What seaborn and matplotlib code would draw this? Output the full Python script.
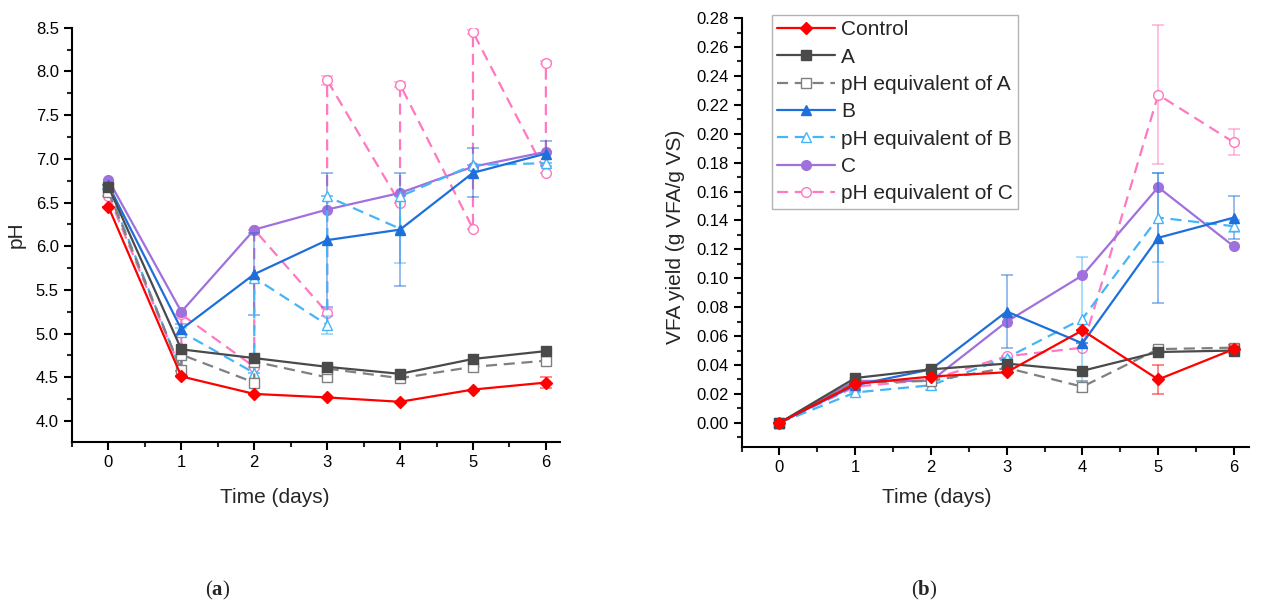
import numpy as np
import pandas as pd
import matplotlib
matplotlib.use("Agg")
import matplotlib.pyplot as plt
from matplotlib.ticker import MultipleLocator
import seaborn as sns

# ---- data ----
days = [0, 1, 2, 3, 4, 5, 6]

# (a) pH
ph_control = [6.45, 4.51, 4.31, 4.27, 4.22, 4.36, 4.44]
ph_control_err = [0, 0, 0, 0, 0, 0, 0.06]
ph_A = [6.68, 4.82, 4.72, 4.62, 4.54, 4.71, 4.80]
ph_B = [6.70, 5.05, 5.68, 6.07, 6.19, 6.84, 7.06]
ph_B_err = [0, 0.06, 0.47, 0.77, 0.65, 0.28, 0.14]
ph_C = [6.76, 5.25, 6.19, 6.42, 6.61, 6.91, 7.08]

# pH equivalents: measured before and after adjustment, so two points on some days
ph_eqA_days = [0, 1, 1, 2, 2, 3, 3, 4, 5, 6]
ph_eqA = [6.62, 4.58, 4.76, 4.44, 4.68, 4.50, 4.60, 4.49, 4.62, 4.69]
ph_eqB_days = [0, 1, 1, 2, 2, 3, 3, 4, 4, 5, 6]
ph_eqB = [6.65, 4.57, 5.02, 4.55, 5.64, 5.10, 6.57, 6.20, 6.57, 6.93, 6.95]
ph_eqB_err = [0, 0, 0.05, 0, 0, 0.10, 0, 0.39, 0, 0, 0]
ph_eqC_days = [0, 1, 1, 2, 2, 3, 3, 4, 4, 5, 5, 6, 6]
ph_eqC = [6.58, 4.57, 5.22, 4.62, 6.19, 5.24, 7.90, 6.49, 7.85, 6.20, 8.45, 6.84, 8.10]
ph_eqC_err = [0, 0, 0, 0, 0, 0.04, 0.05, 0, 0.03, 0, 0.02, 0, 0.02]

# (b) VFA yield
vfa_control = [0.000, 0.027, 0.032, 0.035, 0.064, 0.030, 0.051]
vfa_control_err = [0, 0, 0, 0, 0, 0.010, 0.003]
vfa_A = [0.000, 0.031, 0.037, 0.041, 0.036, 0.049, 0.050]
vfa_eqA = [0.000, 0.028, 0.029, 0.038, 0.025, 0.051, 0.052]
vfa_eqA_err = [0, 0, 0, 0, 0.004, 0, 0]
vfa_B = [0.000, 0.026, 0.037, 0.077, 0.055, 0.128, 0.142]
vfa_B_err = [0, 0, 0, 0.025, 0, 0.045, 0.015]
vfa_eqB = [0.000, 0.021, 0.026, 0.045, 0.072, 0.142, 0.136]
vfa_eqB_err = [0, 0, 0.003, 0, 0.043, 0.031, 0.004]
vfa_C = [0.000, 0.029, 0.029, 0.070, 0.102, 0.163, 0.122]
vfa_eqC = [0.000, 0.025, 0.030, 0.046, 0.052, 0.227, 0.194]
vfa_eqC_err = [0, 0, 0, 0, 0, 0.048, 0.009]

labels = ["Control", "A", "pH equivalent of A", "B", "pH equivalent of B",
          "C", "pH equivalent of C"]
colors = ["#FF0000", "#4A4A4A", "#808080", "#1F6FDB", "#45B5F7", "#A070DD", "#FF78C0"]
markers = ["D", "s", "s", "^", "^", "o", "o"]
filled = [True, True, False, True, False, True, False]

sns.set_style("ticks")
plt.rcParams["font.family"] = ["Liberation Sans", "DejaVu Sans"]
plt.rcParams["mathtext.fontset"] = "custom"
plt.rcParams["mathtext.bf"] = "Liberation Serif:bold"
plt.rcParams["mathtext.rm"] = "Liberation Serif"

fig = plt.figure(figsize=(12.72, 6.03), dpi=100)
ax1 = fig.add_axes([0.0566, 0.267, 0.384, 0.687])
ax2 = fig.add_axes([0.583, 0.259, 0.399, 0.711])


def draw(ax, i, x, y, err=None):
    c = colors[i]
    ls = "-" if filled[i] else (0, (5, 3))
    if err is not None:
        ax.errorbar(x, y, yerr=err, fmt="none", ecolor=c, alpha=0.55,
                    elinewidth=1.2, capsize=4, capthick=1.2, zorder=2 + 7 - i)
    sns.lineplot(x=x, y=y, ax=ax, estimator=None, sort=False, color=c,
                 linestyle=ls, linewidth=1.6, marker=markers[i],
                 markersize=7 if markers[i] != "D" else 6.5,
                 markerfacecolor=c if filled[i] else "white",
                 markeredgecolor=c, markeredgewidth=1.0,
                 label=labels[i], zorder=3 + 7 - i)


# panel (a)
draw(ax1, 0, days, ph_control, ph_control_err)
draw(ax1, 1, days, ph_A)
draw(ax1, 2, ph_eqA_days, ph_eqA)
draw(ax1, 3, days, ph_B, ph_B_err)
draw(ax1, 4, ph_eqB_days, ph_eqB, ph_eqB_err)
draw(ax1, 5, days, ph_C)
draw(ax1, 6, ph_eqC_days, ph_eqC, ph_eqC_err)

# panel (b)
draw(ax2, 0, days, vfa_control, vfa_control_err)
draw(ax2, 1, days, vfa_A)
draw(ax2, 2, days, vfa_eqA, vfa_eqA_err)
draw(ax2, 3, days, vfa_B, vfa_B_err)
draw(ax2, 4, days, vfa_eqB, vfa_eqB_err)
draw(ax2, 5, days, vfa_C)
draw(ax2, 6, days, vfa_eqC, vfa_eqC_err)

ax1.set_xlim(-0.5, 6.2)
ax1.set_ylim(3.76, 8.5)
ax1.yaxis.set_major_locator(MultipleLocator(0.5))
ax1.yaxis.set_minor_locator(MultipleLocator(0.25))
ax1.yaxis.set_major_formatter(plt.FormatStrFormatter("%.1f"))

ax2.set_xlim(-0.5, 6.2)
ax2.set_ylim(-0.0166, 0.28)
ax2.yaxis.set_major_locator(MultipleLocator(0.02))
ax2.yaxis.set_minor_locator(MultipleLocator(0.01))
ax2.yaxis.set_major_formatter(plt.FormatStrFormatter("%.2f"))

for ax in (ax1, ax2):
    ax.set_xticks(days)
    ax.xaxis.set_minor_locator(MultipleLocator(0.5))
    sns.despine(ax=ax)
    for s in ("left", "bottom"):
        ax.spines[s].set_linewidth(1.5)
        ax.spines[s].set_color("black")
    ax.tick_params(which="major", direction="out", length=6, width=1.5,
                   labelsize=12, colors="black")
    ax.tick_params(which="minor", direction="out", length=3.5, width=1.5)
    ax.set_xlabel("Time (days)", fontsize=15)
    ax.grid(False)
    if ax.get_legend() is not None:
        ax.get_legend().remove()

ax1.set_ylabel("pH", fontsize=15)
ax2.set_ylabel("VFA yield (g VFA/g VS)", fontsize=15)
ax1.xaxis.set_label_coords(0.416, -0.11)
ax2.xaxis.set_label_coords(0.384, -0.095)
ax1.yaxis.set_label_coords(-0.095, 0.5)
ax2.yaxis.set_label_coords(-0.112, 0.49)

h, l = ax2.get_legend_handles_labels()
leg = ax2.legend(h, l, loc="upper left", bbox_to_anchor=(0.059, 1.007),
                 borderaxespad=0, fontsize=15, frameon=True, fancybox=False,
                 edgecolor="#A0A0A0", handlelength=2.8, labelspacing=0.4,
                 borderpad=0.25, handletextpad=0.3)
leg.get_frame().set_linewidth(1.0)

fig.text(0.171, 0.012, r"($\mathbf{a}$)", fontsize=15, ha="center",
         family="Liberation Serif")
fig.text(0.727, 0.012, r"($\mathbf{b}$)", fontsize=15, ha="center",
         family="Liberation Serif")

fig.savefig("out.png", dpi=100, facecolor="white")
